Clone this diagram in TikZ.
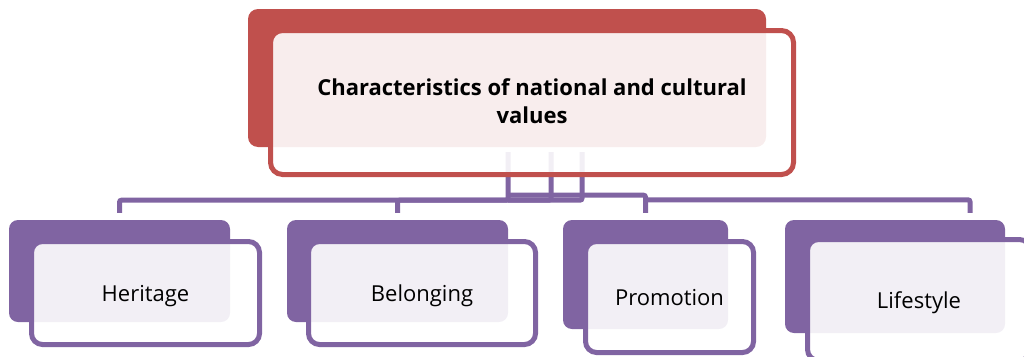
\documentclass[tikz,border=0pt]{standalone}
\usepackage{fontspec}
\newfontfamily\osans{Open Sans}
\usetikzlibrary{calc}
\definecolor{cred}{RGB}{192,80,77}
\definecolor{cpur}{RGB}{128,100,162}
\tikzset{
  backred/.style={fill=cred, draw=none, rounded corners=10pt, inner sep=0pt},
  frontred/.style={draw=cred, line width=5pt, fill=white, fill opacity=0.9, text opacity=1, rounded corners=12pt, inner sep=0pt},
  backpur/.style={fill=cpur, draw=none, rounded corners=9pt, inner sep=0pt},
  frontpur/.style={draw=cpur, line width=5pt, fill=white, fill opacity=0.9, text opacity=1, rounded corners=11pt, inner sep=0pt},
  conn/.style={draw=cpur, line width=5pt, rounded corners=2pt},
  titletext/.style={font=\osans\bfseries\fontsize{22}{28}\selectfont, text=black, align=center},
  leaftext/.style={font=\osans\fontsize{22}{26}\selectfont, text=black},
}
\begin{document}
\begin{tikzpicture}[x=1pt,y=-1pt]
\path[use as bounding box] (0,0) rectangle (1024,356);
\clip (0,0) rectangle (1024,356);
% back boxes
\node[backred, minimum width=518pt, minimum height=138pt] (tb) at (507,78) {};
\node[backpur, minimum width=221pt, minimum height=102pt] (Hb) at (119.5,271) {};
\node[backpur, minimum width=221pt, minimum height=102pt] (Bb) at (397.5,271) {};
\node[backpur, minimum width=165pt, minimum height=109pt] (Pb) at (645.5,274.5) {};
\node[backpur, minimum width=220pt, minimum height=113pt] (Lb) at (895,276.5) {};
% connector start points
\coordinate (p1) at ($(tb.south)+(1,5)$);
\coordinate (p2) at ($(tb.south)+(44,5)$);
\coordinate (p3) at ($(tb.south)+(75,5)$);
% connectors
\draw[conn] (p1) -- ++(0,48) -| ($(Hb.north)+(0,-7)$);
\draw[conn] (p2) -- ++(0,48) -| ($(Bb.north)+(0,-7)$);
\draw[conn] (p3) |- ($(p1)+(0,48)$);
\draw[conn] ($(p1)+(0,43)$) -| ($(Pb.north)+(0,-7)$);
\draw[conn] ($(Pb.north)+(0,-20)$) -| ($(Lb.north)+(75,-7)$);
% front boxes
\node[frontred, minimum width=523pt, minimum height=144pt] (tf) at (532,102.5) {};
\node[frontpur, minimum width=228pt, minimum height=103pt] (Hf) at (145.5,293) {};
\node[frontpur, minimum width=227pt, minimum height=103pt] (Bf) at (422,293) {};
\node[frontpur, minimum width=168pt, minimum height=111pt] (Pf) at (669.5,297) {};
\node[frontpur, minimum width=223pt, minimum height=121pt] (Lf) at (919,300) {};
% texts
\node[titletext, yshift=1.5pt] (tt) at (tf.center) {Characteristics of national and cultural\\values};
\node[leaftext, yshift=-3pt] (ht) at (Hf.center) {Heritage};
\node[leaftext, yshift=-3pt] (bt) at (Bf.center) {Belonging};
\node[leaftext, yshift=-1pt] (pt) at (Pf.center) {Promotion};
\node[leaftext, yshift=-3pt] (lt) at (Lf.center) {Lifestyle};
\end{tikzpicture}
\end{document}
